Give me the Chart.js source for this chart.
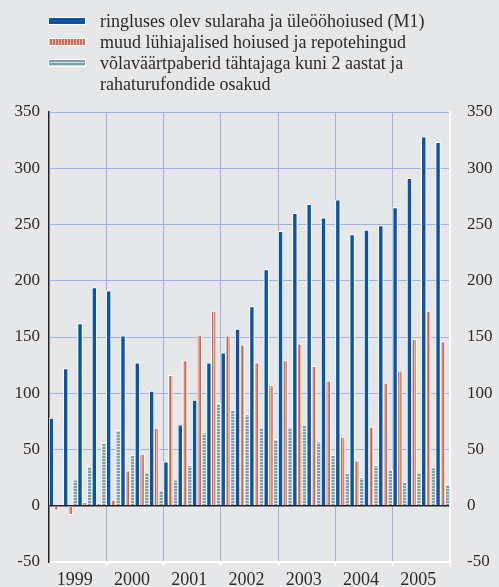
<!DOCTYPE html>
<html>
<head>
<meta charset="utf-8">
<script src="https://cdn.jsdelivr.net/npm/chart.js@4/dist/chart.umd.min.js"></script>
<style>
  html, body { margin:0; padding:0; background:#e6e7e9; }
  #wrap { position:relative; width:499px; height:587px; overflow:hidden; }
  canvas { position:absolute; left:0; top:0; }
  #legend { position:absolute; left:0; top:0; font-family:"Liberation Serif","Times New Roman",serif; font-size:18px; color:#2b2b2b; }
  .item { position:absolute; left:100px; white-space:nowrap; line-height:21px; }
  .box { position:absolute; left:48px; width:36px; height:6px; border:1px solid #fff; }
</style>
</head>
<body>
<div id="wrap">
  <canvas id="c" width="499" height="587"></canvas>
  <div id="legend"></div>
</div>
<script>
// ---- data (quarterly) ----
const years = ["1999", "2000", "2001", "2002", "2003", "2004", "2005"];
const quarters = ["1999 I","1999 II","1999 III","1999 IV","2000 I","2000 II","2000 III","2000 IV",
  "2001 I","2001 II","2001 III","2001 IV","2002 I","2002 II","2002 III","2002 IV",
  "2003 I","2003 II","2003 III","2003 IV","2004 I","2004 II","2004 III","2004 IV",
  "2005 I","2005 II","2005 III","2005 IV"];
const m1 = [78, 122, 162, 194, 191, 151, 127, 102, 39, 72, 94, 127, 136, 157, 177, 210,
  244, 260, 268, 256, 272, 241, 245, 249, 265, 291, 328, 323];
const otherDeposits = [-4, -8, 3, 2, 5, 31, 46, 69, 116, 129, 152, 173, 151, 143, 127, 107,
  129, 144, 124, 111, 61, 40, 70, 109, 120, 148, 173, 146];
const securities = [null, 23, 35, 56, 67, 45, 30, 14, 23, 36, 65, 91, 85, 81, 70, 59,
  70, 72, 57, 45, 29, 25, 36, 32, 21, 30, 34, 19];
const seriesNames = [
  "ringluses olev sularaha ja üleööhoiused (M1)",
  "muud lühiajalised hoiused ja repotehingud",
  "võlaväärtpaberid tähtajaga kuni 2 aastat ja",
  "rahaturufondide osakud"
];

// ---- patterns ----
function makePattern(w, h, draw) {
  const c = document.createElement('canvas'); c.width = w; c.height = h;
  const g = c.getContext('2d'); draw(g);
  return c;
}
const redCanvas = makePattern(3, 1, g => {
  g.fillStyle = '#eab4a5'; g.fillRect(0,0,1,1);
  g.fillStyle = '#d68a77'; g.fillRect(1,0,1,1);
  g.fillStyle = '#c46a58'; g.fillRect(2,0,1,1);
});
const tealCanvas = makePattern(1, 3, g => {
  g.fillStyle = '#7ea1ae'; g.fillRect(0,0,1,2);
  g.fillStyle = '#c9d9de'; g.fillRect(0,2,1,1);
});
const ctx = document.getElementById('c').getContext('2d');
const redPattern = ctx.createPattern(redCanvas, 'repeat');
const tealPattern = ctx.createPattern(tealCanvas, 'repeat');
const blue = '#0b55a2';

// ---- legend ----
const legend = document.getElementById('legend');
const boxStyles = [
  'background:' + blue,
  'background:repeating-linear-gradient(90deg,#eab4a5 0 1px,#c8705d 1px 3px)',
  'background:repeating-linear-gradient(180deg,#7ea1ae 0 2px,#c9d9de 2px 3px)'
];
const boxTops = [17, 38, 59];
boxStyles.forEach((s, i) => {
  const b = document.createElement('div'); b.className = 'box';
  b.style.cssText = s + ';top:' + boxTops[i] + 'px'; legend.appendChild(b);
});
seriesNames.forEach((t, i) => {
  const d = document.createElement('div'); d.className = 'item';
  d.style.top = (11 + i * 21) + 'px'; d.textContent = t; legend.appendChild(d);
});

// ---- chart ----
const font = { family: "'Liberation Serif','Times New Roman',serif", size: 17 };
const yearFont = { family: "'Liberation Serif','Times New Roman',serif", size: 18 };
const gridBlue = '#a4b2de';
const fixY = s => { s.width = 49; s.paddingTop = 0; s.paddingBottom = 0; };
new Chart(ctx, {
  type: 'bar',
  data: {
    labels: quarters,
    datasets: [
      { label: seriesNames[0], data: m1, backgroundColor: blue },
      { label: seriesNames[1], data: otherDeposits, backgroundColor: redPattern },
      { label: seriesNames[2] + ' ' + seriesNames[3], data: securities, backgroundColor: tealPattern }
    ].map(d => Object.assign(d, { borderColor: '#ffffff', borderWidth: 1, categoryPercentage: 1.0, barPercentage: 1.0 }))
  },
  options: {
    responsive: false,
    animation: false,
    layout: { padding: { top: 112, left: 0, right: 0, bottom: 0 } },
    plugins: { legend: { display: false }, tooltip: { enabled: false } },
    scales: {
      x: { display: false },
      x2: {
        type: 'category', labels: years, position: 'bottom', offset: true,
        grid: {
          offset: true, drawTicks: true, tickLength: 4, tickColor: '#ffffff', tickWidth: 1.5,
          color: c => c.index === 0 ? '#222222' : (c.index === years.length ? '#ffffff' : gridBlue)
        },
        border: { display: true, color: '#ffffff', width: 2 },
        ticks: { font: yearFont, color: '#2b2b2b', padding: 3, labelOffset: -3, maxRotation: 0 },
        afterFit: s => { s.height = 25; }
      },
      y: {
        position: 'left', min: -50, max: 350,
        ticks: { stepSize: 50, font, color: '#2b2b2b', padding: 9 },
        grid: {
          drawTicks: false,
          color: c => c.tick.value === 0 ? '#222222' : (c.tick.value === -50 ? '#ffffff' : gridBlue),
          lineWidth: c => c.tick.value === 0 ? 1.5 : 1
        },
        border: { display: true, color: '#222222', width: 1.5 },
        afterFit: fixY
      },
      y2: {
        position: 'right', min: -50, max: 350,
        ticks: { stepSize: 50, font, color: '#2b2b2b', padding: 17 },
        grid: { display: false, drawTicks: false },
        border: { display: true, color: '#ffffff', width: 2 },
        afterFit: fixY
      }
    }
  }
});
</script>
</body>
</html>
